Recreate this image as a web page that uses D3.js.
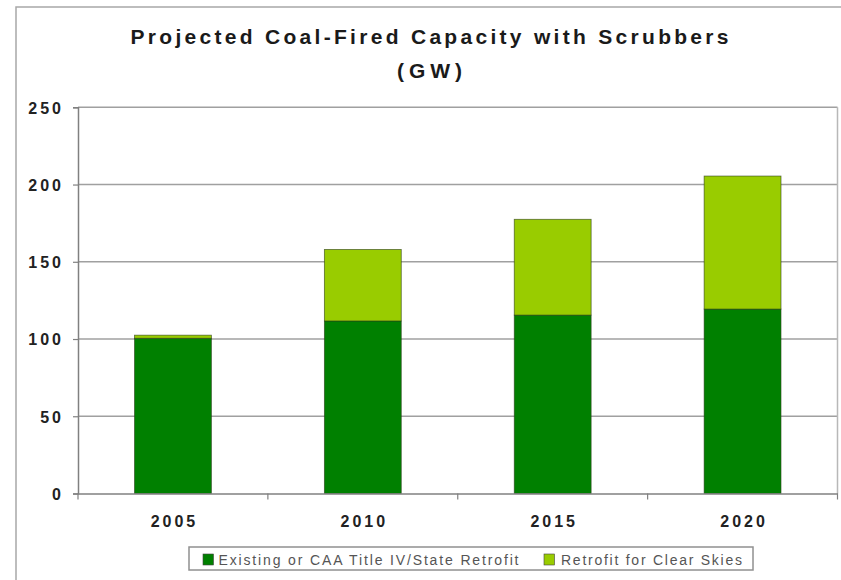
<!DOCTYPE html>
<html><head><meta charset="utf-8">
<script src="https://cdn.jsdelivr.net/npm/d3@7"></script>
<style>body{margin:0;background:#fff;} svg{display:block;}</style>
</head><body>
<svg id="c" width="841" height="580"></svg>
<script>
const categories = ["2005", "2010", "2015", "2020"];
const existing = [100.5, 111.7, 115.5, 119.4];
const retrofit = [2, 46.3, 62, 86.1];
const yTicks = [0, 50, 100, 150, 200, 250];
const seriesNames = ["Existing or CAA Title IV/State Retrofit", "Retrofit for Clear Skies"];
const seriesColors = ["#008000", "#99cc00"];
const titleLines = ["Projected Coal-Fired Capacity with Scrubbers", "(GW)"];

(function () {
const svg = d3.select("#c");
const font = "'Liberation Sans', Arial, sans-serif";

// outer border
svg.append("rect").attr("x", 16).attr("y", 7).attr("width", 840).attr("height", 600)
  .attr("fill", "none").attr("stroke", "#a8a8a8").attr("stroke-width", 1.5);

const pLeft = 78, pRight = 837.5, pTop = 107.3, pBottom = 493.5;
const x = d3.scaleBand().domain(categories).range([pLeft, pRight]).paddingInner(0.595).paddingOuter(0.2975);
const y = d3.scaleLinear().domain([0, 250]).range([pBottom, pTop]);

// gridlines
svg.append("g").selectAll("line").data(yTicks.filter(d => d > 0)).join("line")
  .attr("x1", pLeft).attr("x2", pRight).attr("y1", d => y(d)).attr("y2", d => y(d))
  .attr("stroke", "#a0a0a0").attr("stroke-width", 1.5);
// right border of plot area
svg.append("line").attr("x1", pRight).attr("x2", pRight).attr("y1", pTop).attr("y2", pBottom)
  .attr("stroke", "#b8b8b8").attr("stroke-width", 1.5);

// stacked data
const data = categories.map((c, i) => ({cat: c, existing: existing[i], retrofit: retrofit[i]}));
const stack = d3.stack().keys(["existing", "retrofit"])(data);

svg.append("g").selectAll("g").data(stack).join("g")
  .attr("fill", (d, i) => seriesColors[i])
  .selectAll("rect").data(d => d).join("rect")
  .attr("x", d => x(d.data.cat))
  .attr("width", x.bandwidth())
  .attr("y", d => y(d[1]))
  .attr("height", d => y(d[0]) - y(d[1]))
  .attr("stroke", "#2a3a1a").attr("stroke-width", 0.8).attr("stroke-opacity", 0.7);

// y axis
const yAxis = d3.axisLeft(y).tickValues(yTicks).tickSize(5).tickPadding(12);
const gy = svg.append("g").attr("transform", `translate(${pLeft},0)`).call(yAxis);
gy.select(".domain").attr("stroke", "#808080").attr("stroke-width", 1.5);
gy.selectAll(".tick line").attr("stroke", "#808080").attr("stroke-width", 1.2);
gy.selectAll(".tick text").attr("font-family", font).attr("font-size", 16).attr("font-weight", "bold")
  .attr("fill", "#222").attr("letter-spacing", "3px").attr("x", -14).attr("dy", "0.36em");

// x axis
const xAxis = d3.axisBottom(x).tickSize(0).tickPadding(22);
const gx = svg.append("g").attr("transform", `translate(0,${pBottom})`).call(xAxis);
gx.select(".domain").attr("stroke", "#808080").attr("stroke-width", 1.5);
gx.selectAll(".tick text").attr("font-family", font).attr("font-size", 16).attr("font-weight", "bold")
  .attr("fill", "#222").attr("letter-spacing", "3px").attr("dx", "1.5px");
// category separator ticks
const seps = categories.slice(0, -1).map(c => x(c) + x.bandwidth() + x.step() * x.paddingInner() / 2);
gx.append("g").selectAll("line").data([pLeft, ...seps, pRight]).join("line")
  .attr("x1", d => d).attr("x2", d => d).attr("y1", 0).attr("y2", 6)
  .attr("stroke", "#808080").attr("stroke-width", 1.2);

// title
const titleWidths = [598, 65];
svg.append("g").selectAll("text").data(titleLines).join("text")
  .attr("x", 429.5).attr("y", (d, i) => 44 + i * 34)
  .attr("text-anchor", "middle")
  .attr("font-family", font).attr("font-size", 21).attr("font-weight", "bold").attr("fill", "#1a1a1a")
  .attr("textLength", (d, i) => titleWidths[i]).attr("lengthAdjust", "spacing")
  .text(d => d);

// legend
const lg = svg.append("g");
lg.append("rect").attr("x", 189).attr("y", 547).attr("width", 564).attr("height", 23)
  .attr("fill", "#fff").attr("stroke", "#909090").attr("stroke-width", 1.5);
const legX = [203, 544];
const legTextX = [218.5, 561];
const legW = [300, 181];
seriesNames.forEach((n, i) => {
  lg.append("rect").attr("x", legX[i]).attr("y", 554).attr("width", 10.5).attr("height", 11)
    .attr("fill", seriesColors[i]).attr("stroke", "#444").attr("stroke-width", 0.6);
  lg.append("text").attr("x", legTextX[i]).attr("y", 564.5)
    .attr("font-family", font).attr("font-size", 14).attr("fill", "#555")
    .attr("textLength", legW[i]).attr("lengthAdjust", "spacing").text(n);
});
})();
</script>
</body></html>
